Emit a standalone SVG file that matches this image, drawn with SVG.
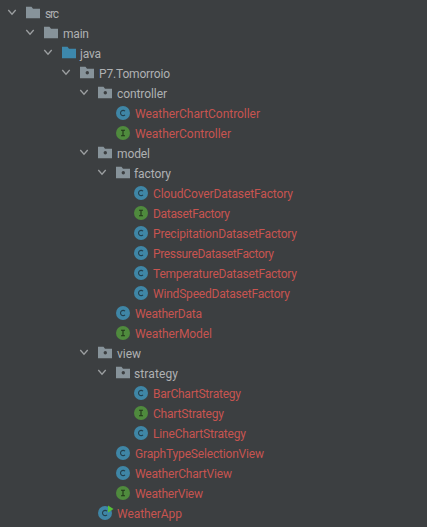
<svg xmlns="http://www.w3.org/2000/svg" width="427" height="527" viewBox="0 0 427 527">
<style>
text{font-family:Roboto,"Open Sans","Liberation Sans",sans-serif;font-size:12px}
.d{fill:#afb1b3}.r{fill:#c75450}
.g{fill:none;stroke:#9da0a2;stroke-width:1.300}
</style>
<defs>
<path id="chev" class="g" d="M-3.700-3L0 1.200L3.700-3"/>
<path id="fold" d="M0-6.300H5.500L7-4.300H14V5.300H0Z" fill="#87939a"/>
<g id="pkg"><use href="#fold"/><circle cx="7.300" cy="-0.200" r="1.700" fill="#3c3f41"/></g>
<path id="foldb" d="M0-6.300H5.500L7-4.300H14V5.300H0Z" fill="#3d88ac"/>
<g id="cls"><circle r="7" fill="#3f86a6"/><path d="M2-1.800A2.600 2.600 0 1 0 2 1.800" fill="none" stroke="#23404e" stroke-width="1.100"/></g>
<g id="ifc"><circle r="7" fill="#4f8a3d"/><path d="M-2-2.800H2M-2 2.800H2M0-2.800V2.800" fill="none" stroke="#22361b" stroke-width="1.100"/></g>
</defs>
<rect width="427" height="527" fill="#3c3f41"/>
<g id="connectors"></g>
<g id="src"><use href="#chev" x="12" y="13"/><use href="#fold" x="26" y="13"/><text x="45" y="18" class="d" textLength="14">src</text></g>
<g id="main"><use href="#chev" x="30" y="33"/><use href="#fold" x="44" y="33"/><text x="63" y="38" class="d" textLength="26">main</text></g>
<g id="java"><use href="#chev" x="48" y="53"/><use href="#foldb" x="62" y="53"/><text x="80" y="58" class="d" textLength="21">java</text></g>
<g id="tomorroio"><use href="#chev" x="66" y="73"/><use href="#pkg" x="80" y="73"/><text x="99" y="78" class="d" textLength="71">P7.Tomorroio</text></g>
<g id="controller"><use href="#chev" x="84" y="93"/><use href="#pkg" x="98" y="93"/><text x="117" y="98" class="d" textLength="50">controller</text></g>
<g id="WeatherChartController"><use href="#cls" x="123" y="113"/><text x="135" y="118" class="r" textLength="125">WeatherChartController</text></g>
<g id="WeatherController"><use href="#ifc" x="123" y="133"/><text x="135" y="138" class="r" textLength="96">WeatherController</text></g>
<g id="model"><use href="#chev" x="84" y="153"/><use href="#pkg" x="98" y="153"/><text x="117" y="158" class="d" textLength="33">model</text></g>
<g id="factory"><use href="#chev" x="102" y="173"/><use href="#pkg" x="116" y="173"/><text x="134" y="178" class="d" textLength="37">factory</text></g>
<g id="CloudCoverDatasetFactory"><use href="#cls" x="141" y="193"/><text x="153" y="198" class="r" textLength="140">CloudCoverDatasetFactory</text></g>
<g id="DatasetFactory"><use href="#ifc" x="141" y="213"/><text x="153" y="218" class="r" textLength="77">DatasetFactory</text></g>
<g id="PrecipitationDatasetFactory"><use href="#cls" x="141" y="233"/><text x="153" y="238" class="r" textLength="144">PrecipitationDatasetFactory</text></g>
<g id="PressureDatasetFactory"><use href="#cls" x="141" y="253"/><text x="153" y="258" class="r" textLength="121">PressureDatasetFactory</text></g>
<g id="TemperatureDatasetFactory"><use href="#cls" x="141" y="273"/><text x="153" y="278" class="r" textLength="144">TemperatureDatasetFactory</text></g>
<g id="WindSpeedDatasetFactory"><use href="#cls" x="141" y="293"/><text x="153" y="298" class="r" textLength="137">WindSpeedDatasetFactory</text></g>
<g id="WeatherData"><use href="#cls" x="123" y="313"/><text x="135" y="318" class="r" textLength="67">WeatherData</text></g>
<g id="WeatherModel"><use href="#ifc" x="123" y="333"/><text x="135" y="338" class="r" textLength="77">WeatherModel</text></g>
<g id="view"><use href="#chev" x="84" y="353"/><use href="#pkg" x="98" y="353"/><text x="117" y="358" class="d" textLength="24">view</text></g>
<g id="strategy"><use href="#chev" x="102" y="373"/><use href="#pkg" x="116" y="373"/><text x="134" y="378" class="d" textLength="44">strategy</text></g>
<g id="BarChartStrategy"><use href="#cls" x="141" y="393"/><text x="153" y="398" class="r" textLength="88">BarChartStrategy</text></g>
<g id="ChartStrategy"><use href="#ifc" x="141" y="413"/><text x="153" y="418" class="r" textLength="71">ChartStrategy</text></g>
<g id="LineChartStrategy"><use href="#cls" x="141" y="433"/><text x="153" y="438" class="r" textLength="93">LineChartStrategy</text></g>
<g id="GraphTypeSelectionView"><use href="#cls" x="123" y="453"/><text x="135" y="458" class="r" textLength="129">GraphTypeSelectionView</text></g>
<g id="WeatherChartView"><use href="#cls" x="123" y="473"/><text x="135" y="478" class="r" textLength="97">WeatherChartView</text></g>
<g id="WeatherView"><use href="#ifc" x="123" y="493"/><text x="135" y="498" class="r" textLength="68">WeatherView</text></g>
<g id="WeatherApp"><use href="#cls" x="105" y="513"/><path d="M108 505.500L113.500 509L108 512.500Z" fill="#57c13a"/><text x="117" y="518" class="r" textLength="65">WeatherApp</text></g>
</svg>
